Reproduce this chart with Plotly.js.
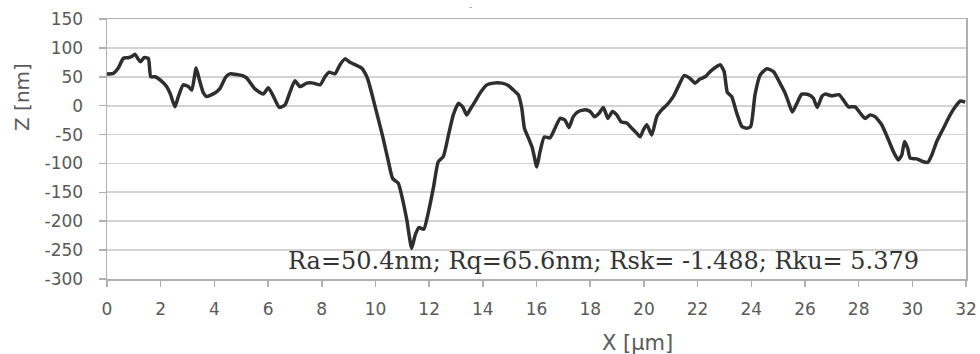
<!DOCTYPE html>
<html>
<head>
<meta charset="utf-8">
<script src="https://cdn.plot.ly/plotly-3.0.1.min.js"></script>
<style>
html,body{margin:0;padding:0;background:#fff;}
#chart{width:980px;height:354px;}
</style>
</head>
<body>
<div id="chart"></div>
<script>
// Profile data
const xPos = [0,0.24,0.42,0.61,0.79,0.92,1.04,1.13,1.25,1.38,1.54,1.63,1.79,2.04,2.22,2.37,2.53,2.66,2.84,3.03,3.16,3.32,3.44,3.59,3.71,4.02,4.21,4.43,4.58,4.83,5.05,5.2,5.51,5.82,6.01,6.2,6.42,6.63,6.82,7.0,7.19,7.44,7.69,7.94,8.12,8.28,8.49,8.68,8.87,9.05,9.24,9.49,9.65,9.72,9.88,10.05,10.29,10.48,10.64,10.85,11.0,11.17,11.35,11.48,11.62,11.8,11.97,12.16,12.34,12.53,12.72,12.9,13.09,13.25,13.4,13.52,13.71,13.9,14.15,14.39,14.7,14.95,15.14,15.32,15.45,15.55,15.7,15.85,16.01,16.13,16.29,16.5,16.69,16.88,17.06,17.21,17.37,17.56,17.81,18.0,18.16,18.33,18.49,18.66,18.83,18.99,19.15,19.36,19.55,19.74,19.86,19.98,20.11,20.29,20.48,20.67,20.85,21.1,21.28,21.5,21.7,21.91,22.09,22.28,22.47,22.66,22.84,22.99,23.11,23.27,23.46,23.65,23.83,23.98,24.14,24.33,24.58,24.83,25.07,25.26,25.38,25.53,25.7,25.88,26.13,26.31,26.46,26.63,26.75,27.0,27.27,27.43,27.62,27.87,28.06,28.24,28.43,28.61,28.86,29.11,29.3,29.48,29.61,29.71,29.83,29.92,30.17,30.41,30.58,30.73,30.91,31.16,31.41,31.6,31.79,31.97];
const zNm = [55,56,65,82,83,85,89,83,76,83,82,50,50,42,33,19,-2,16,36,33,27,65,45,22,16,22,30,50,55,54,52,48,29,20,31,16,-3,1,24,43,33,39,39,36,50,58,55,71,81,75,71,65,53,45,18,-13,-57,-96,-126,-134,-160,-198,-247,-224,-211,-214,-185,-142,-97,-88,-51,-16,4,-2,-16,-7,7,22,36,39,39,35,27,19,-4,-39,-56,-74,-106,-80,-54,-56,-39,-22,-25,-38,-19,-10,-7,-10,-19,-13,-3,-22,-10,-16,-28,-30,-39,-48,-54,-42,-33,-51,-19,-7,1,16,33,52,48,39,46,50,59,66,71,59,23,16,-13,-36,-39,-36,19,53,64,59,39,22,7,-11,4,20,19,13,-3,16,20,17,19,10,-2,-2,-13,-22,-16,-19,-33,-59,-80,-94,-85,-62,-74,-91,-92,-97,-98,-85,-62,-39,-16,-2,8,6];
const xTicks = [0,2,4,6,8,10,12,14,16,18,20,22,24,26,28,30,32];
const yTicks = [150,100,50,0,-50,-100,-150,-200,-250,-300];
const xTitle = "X [µm]";
const yTitle = "Z [nm]";
const statsText = "Ra=50.4nm; Rq=65.6nm; Rsk= -1.488; Rku= 5.379";

const labelFont = {family: "DejaVu Sans, sans-serif", size: 17, color: "#595959"};

const trace = {
  x: xPos, y: zNm, type: "scatter", mode: "lines",
  line: {color: "#2e2e2e", width: 3.5, shape: "spline", smoothing: 0.5},
  hoverinfo: "skip"
};

const layout = {
  width: 980, height: 354,
  margin: {l: 107, r: 14, t: 19, b: 75},
  paper_bgcolor: "#ffffff", plot_bgcolor: "#ffffff",
  showlegend: false,
  xaxis: {
    range: [0, 32], tickvals: xTicks, ticktext: xTicks.map(String),
    showgrid: false, zeroline: false,
    showline: true, linecolor: "#b0b0b0", linewidth: 1.5, mirror: true,
    ticks: "outside", ticklen: 6, tickcolor: "#b0b0b0", tickwidth: 1.5,
    ticklabelstandoff: 8,
    tickfont: labelFont
  },
  yaxis: {
    range: [-300, 150], tickvals: yTicks, ticktext: yTicks.map(String),
    showgrid: true, gridcolor: "#d3d3d3", gridwidth: 1.8, zeroline: false,
    showline: true, linecolor: "#b0b0b0", linewidth: 1.5, mirror: true,
    ticks: "outside", ticklen: 7, tickcolor: "#b0b0b0", tickwidth: 1.5,
    ticklabelstandoff: 12,
    tickfont: labelFont
  },
  annotations: [
    {text: yTitle, xref: "paper", yref: "paper", x: -0.099, y: 0.70,
     xanchor: "center", yanchor: "middle", textangle: -90, showarrow: false,
     font: {family: "DejaVu Sans, sans-serif", size: 20, color: "#595959"}},
    {text: xTitle, xref: "paper", yref: "paper", x: 0.618, y: -0.246,
     xanchor: "center", yanchor: "middle", showarrow: false,
     font: {family: "DejaVu Sans, sans-serif", size: 21, color: "#595959"}},
    {text: statsText, xref: "paper", yref: "paper", x: 0.578, y: 0.069,
     xanchor: "center", yanchor: "middle", showarrow: false,
     font: {family: "DejaVu Serif, serif", size: 24, color: "#333333"}},
    {text: "-", xref: "paper", yref: "paper", x: 0.4226, y: 1.046,
     xanchor: "center", yanchor: "middle", showarrow: false,
     font: {family: "DejaVu Sans, sans-serif", size: 9, color: "#888888"}}
  ]
};

Plotly.newPlot("chart", [trace], layout, {staticPlot: true, displayModeBar: false});
</script>
</body>
</html>
